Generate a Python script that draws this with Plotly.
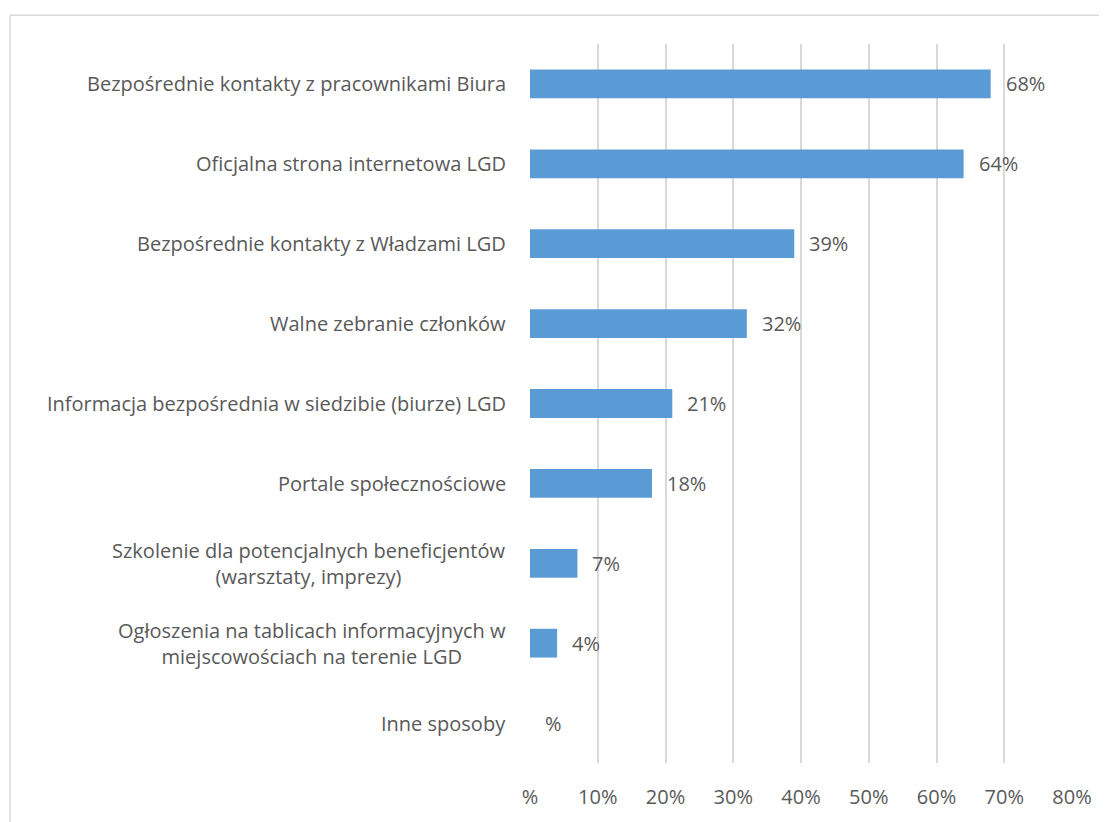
import plotly.graph_objects as go

categories = [
    "Bezpośrednie kontakty z pracownikami Biura",
    "Oficjalna strona internetowa LGD",
    "Bezpośrednie kontakty z Władzami LGD",
    "Walne zebranie członków",
    "Informacja bezpośrednia w siedzibie (biurze) LGD",
    "Portale społecznościowe",
    "Szkolenie dla potencjalnych beneficjentów<br>(warsztaty, imprezy)",
    "Ogłoszenia na tablicach informacyjnych w<br>miejscowościach na terenie LGD",
    "Inne sposoby",
]
values = [68, 64, 39, 32, 21, 18, 7, 4, 0]
tick_vals = [0, 10, 20, 30, 40, 50, 60, 70, 80]
tick_text = ["%", "10%", "20%", "30%", "40%", "50%", "60%", "70%", "80%"]

# page has an 8px body margin, so the figure is 8px smaller
OFF = 8
W, H = 1107 - OFF, 822 - OFF
ML, MR, MT, MB = 530 - OFF, 35, 44 - OFF, 54
pw, ph = W - ML - MR, H - MT - MB

FONT = "Open Sans"
TXT = "#595959"
FS = 20
FS_CAT = 20

def fmt(v):
    return f"{v}%" if v else "%"

fig = go.Figure()
fig.add_trace(go.Bar(
    x=values, y=categories, orientation="h",
    marker=dict(color="#5B9BD5", line=dict(width=0)),
    hoverinfo="x+y",
))

annotations = []
for c, v in zip(categories, values):
    annotations.append(dict(
        x=v, y=c, xref="x", yref="y", text=fmt(v), showarrow=False,
        xanchor="left", xshift=13, font=dict(family=FONT, size=FS, color=TXT),
    ))
    annotations.append(dict(
        x=0, y=c, xref="paper", yref="y", text=c, showarrow=False,
        xanchor="right", xshift=-22, align="center",
        font=dict(family=FONT, size=FS_CAT, color=TXT),
    ))

def px2x(px):
    return (px - OFF - ML) / pw

def py2y(py):
    return (H + OFF - MB - py) / ph

shapes = [
    dict(type="line", xref="paper", yref="paper", x0=px2x(10), x1=px2x(10),
         y0=py2y(15), y1=py2y(830), line=dict(color="#D9D9D9", width=1.5)),
    dict(type="line", xref="paper", yref="paper", x0=px2x(10), x1=px2x(1106),
         y0=py2y(15), y1=py2y(15), line=dict(color="#D9D9D9", width=1.5)),
]

fig.update_layout(
    width=W, height=H,
    margin=dict(l=ML, r=MR, t=MT, b=MB, pad=0),
    paper_bgcolor="white", plot_bgcolor="white",
    bargap=0.64,
    showlegend=False,
    annotations=annotations,
    shapes=shapes,
    font=dict(family=FONT, size=FS, color=TXT),
    xaxis=dict(
        range=[0, 80], tickvals=tick_vals, ticktext=tick_text,
        showgrid=True, gridcolor="#D9D9D9", gridwidth=1.5,
        zeroline=False, showline=False, ticks="",
        ticklabelstandoff=20,
        tickfont=dict(family=FONT, size=FS, color=TXT),
        fixedrange=True,
    ),
    yaxis=dict(
        categoryorder="array", categoryarray=categories[::-1],
        showticklabels=False, showgrid=False, zeroline=False,
        showline=False, ticks="", fixedrange=True,
    ),
)

fig.write_html("out.html")
